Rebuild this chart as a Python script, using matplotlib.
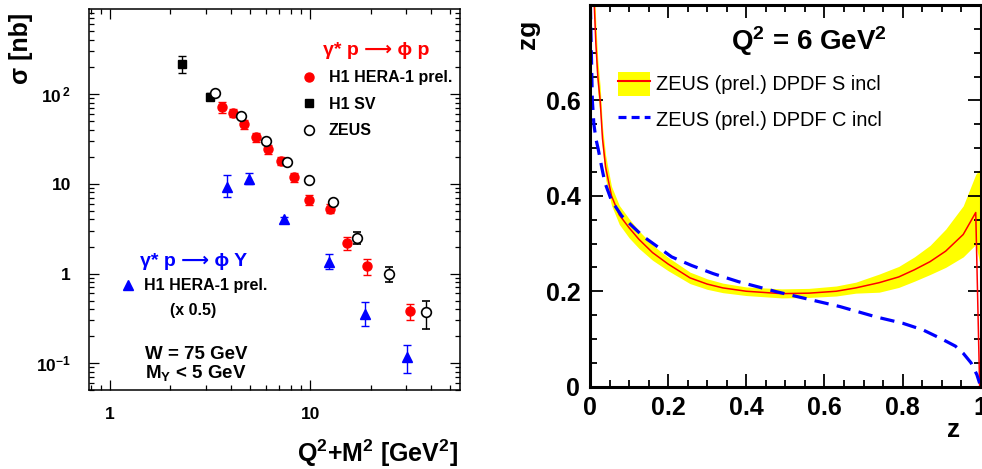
import matplotlib.pyplot as plt
import numpy as np
from matplotlib.lines import Line2D
from matplotlib.patches import Patch
from matplotlib.ticker import FixedLocator, FixedFormatter, NullFormatter, MultipleLocator

plt.rcParams.update({
    'font.family': ['Liberation Sans', 'DejaVu Sans'],
    'font.weight': 'bold',
    'axes.labelweight': 'bold',
    'axes.titleweight': 'bold',
    'mathtext.default': 'regular',
    'xtick.direction': 'in',
    'ytick.direction': 'in',
    'xtick.top': True,
    'ytick.right': True,
})

# --- left panel: phi cross sections vs Q^2+M^2 ---
h1_x = [3.64, 4.12, 4.69, 5.37, 6.12, 7.14, 8.29, 9.89, 12.5, 15.3, 19.2, 31.4]
h1_y = [72, 62, 46, 33.3, 24.3, 17.9, 11.9, 6.6, 5.3, 2.2, 1.22, 0.38]
h1_lo = [62, 55, 41, 29.5, 21.5, 16, 10.6, 5.8, 4.7, 1.81, 0.97, 0.30]
h1_hi = [82, 69, 51, 37, 27, 20, 13.2, 7.5, 6.0, 2.55, 1.46, 0.46]

sv_x = [2.28, 3.14]
sv_y = [219, 93]
sv_lo = [170, 85]
sv_hi = [264, 102]

zeus_x = [3.35, 4.5, 6.0, 7.65, 9.89, 13.0, 17.2, 24.6, 37.6]
zeus_y = [104, 57, 30.3, 17.5, 10.9, 6.3, 2.48, 0.98, 0.37]
zeus_lo = [100, 55, 29, 16.8, 10.4, 6.0, 2.14, 0.80, 0.24]
zeus_hi = [108, 59, 31.6, 18.2, 11.4, 6.6, 2.9, 1.17, 0.50]

pd_x = [3.83, 4.97, 7.35, 12.4, 18.7, 30.4]
pd_y = [9.3, 11.3, 4.0, 1.35, 0.355, 0.116]
pd_lo = [7.2, 9.9, 3.7, 1.12, 0.26, 0.077]
pd_hi = [12.4, 13.1, 4.3, 1.65, 0.48, 0.16]

# --- right panel: zg at Q^2 = 6 GeV^2 ---
zS = [0.010, 0.015, 0.020, 0.026, 0.032, 0.040, 0.055, 0.075, 0.10, 0.125, 0.16, 0.20, 0.256, 0.30,
      0.34, 0.40, 0.49, 0.56, 0.63, 0.68, 0.74, 0.79, 0.83, 0.87, 0.91, 0.955, 0.987, 0.997]
gS = [0.82, 0.72, 0.65, 0.60, 0.52, 0.46, 0.40, 0.36, 0.333, 0.309, 0.281, 0.257, 0.228, 0.215,
      0.207, 0.200, 0.195, 0.196, 0.200, 0.207, 0.218, 0.230, 0.245, 0.262, 0.284, 0.319, 0.365, 0.0]
zS_band = [0.010, 0.015, 0.020, 0.026, 0.032, 0.040, 0.055, 0.075, 0.10, 0.125, 0.16, 0.20, 0.256, 0.30,
           0.34, 0.40, 0.49, 0.56, 0.63, 0.68, 0.74, 0.79, 0.83, 0.87, 0.91, 0.955, 0.987, 0.997]
gS_lo = [0.78, 0.68, 0.615, 0.57, 0.495, 0.435, 0.38, 0.34, 0.312, 0.290, 0.265, 0.243, 0.216, 0.204,
         0.197, 0.191, 0.186, 0.187, 0.190, 0.196, 0.198, 0.208, 0.221, 0.235, 0.250, 0.272, 0.298, 0.26]
gS_hi = [0.86, 0.76, 0.685, 0.63, 0.545, 0.485, 0.42, 0.38, 0.352, 0.327, 0.297, 0.271, 0.240, 0.226,
         0.217, 0.209, 0.205, 0.206, 0.211, 0.219, 0.236, 0.252, 0.272, 0.296, 0.330, 0.379, 0.445, 0.455]

zC = [0.001, 0.004, 0.006, 0.010, 0.015, 0.021, 0.030, 0.038, 0.055, 0.081, 0.11, 0.136, 0.209, 0.26,
      0.315, 0.38, 0.477, 0.55, 0.639, 0.733, 0.80, 0.852, 0.90, 0.935, 0.955, 0.975, 0.99, 0.997]
gC = [0.80, 0.68, 0.60, 0.55, 0.52, 0.498, 0.46, 0.428, 0.39, 0.358, 0.335, 0.315, 0.272, 0.254,
      0.237, 0.220, 0.199, 0.185, 0.168, 0.146, 0.133, 0.119, 0.10, 0.085, 0.07, 0.05, 0.025, 0.007]

fig = plt.figure(figsize=(9.82, 4.69), dpi=100)

# ---------------- left ----------------
ax1 = fig.add_axes([0.0906, 0.168, 0.378, 0.812])
ax1.set_xscale('log')
ax1.set_yscale('log')


def errs(y, lo, hi):
    y = np.array(y)
    return [y - np.array(lo), np.array(hi) - y]


ebar = dict(capsize=3, elinewidth=1, capthick=1)
ax1.errorbar(h1_x, h1_y, yerr=errs(h1_y, h1_lo, h1_hi), fmt='o', color='red', ms=6.5, zorder=3, **ebar)
ax1.errorbar(sv_x, sv_y, yerr=errs(sv_y, sv_lo, sv_hi), fmt='s', color='black', ms=6, zorder=3, **ebar)
ax1.errorbar(zeus_x, zeus_y, yerr=errs(zeus_y, zeus_lo, zeus_hi), fmt='o', color='black',
             mfc='white', mec='black', mew=1.2, ms=7, zorder=4, **ebar)
ax1.errorbar(pd_x, pd_y, yerr=errs(pd_y, pd_lo, pd_hi), fmt='^', color='blue', ms=6.5, zorder=3, **ebar)

ax1.set_xlim(0.785, 56)
ax1.set_ylim(0.05, 880)
ax1.xaxis.set_major_locator(FixedLocator([1, 10]))
ax1.xaxis.set_major_formatter(FixedFormatter(['1', '10']))
ax1.xaxis.set_minor_formatter(NullFormatter())
ax1.yaxis.set_major_locator(FixedLocator([0.1, 1, 10, 100]))
ax1.yaxis.set_major_formatter(FixedFormatter(['10$^{-1}$', '1', '10', '10$^{\\,2}$']))
ax1.yaxis.set_minor_formatter(NullFormatter())
ax1.tick_params(which='major', length=7, width=0.9, labelsize=12.5)
ax1.tick_params(which='minor', length=3.5, width=0.9)
ax1.tick_params(axis='y', pad=13)
ax1.tick_params(axis='x', pad=12)
for s in ax1.spines.values():
    s.set_linewidth(1.1)

ax1.set_ylabel('σ [nb]', fontsize=18, loc='top')
ax1.yaxis.set_label_coords(-0.152, 0.992)
ax1.set_xlabel('Q$^2$+M$^2$ [GeV$^2$]', fontsize=18, loc='right')
ax1.xaxis.set_label_coords(0.995, -0.125)

hm1 = [Line2D([], [], ls='none', marker='o', color='red', ms=6.5),
       Line2D([], [], ls='none', marker='s', color='black', ms=6),
       Line2D([], [], ls='none', marker='o', mfc='white', mec='black', mew=1.2, ms=7)]
leg1 = ax1.legend(hm1, ['H1 HERA-1 prel.', 'H1 SV', 'ZEUS'],
                  title='γ* p ⟶ ϕ p', loc='upper left', bbox_to_anchor=(0.532, 0.953),
                  frameon=False, fontsize=11.5, handlelength=1.0, handletextpad=0.75,
                  labelspacing=0.72)
leg1.get_title().set_color('red')
leg1.get_title().set_fontsize(14)
leg1.get_title().set_fontweight('bold')
ax1.add_artist(leg1)

hm2 = [Line2D([], [], ls='none', marker='^', color='blue', ms=6.5)]
leg2 = ax1.legend(hm2, ['H1 HERA-1 prel.'],
                  title='γ* p ⟶ ϕ Y', loc='upper left', bbox_to_anchor=(0.045, 0.397),
                  frameon=False, fontsize=11.5, handlelength=1.0, handletextpad=0.5)
leg2.get_title().set_color('blue')
leg2.get_title().set_fontsize(14)
leg2.get_title().set_fontweight('bold')

ax1.text(0.218, 0.21, '(x 0.5)', transform=ax1.transAxes, fontsize=11.5, ha='left', va='center')
ax1.text(0.15, 0.068, 'W = 75 GeV\nM$_Y$ < 5 GeV', transform=ax1.transAxes, fontsize=13.5,
         ha='left', va='center', linespacing=1.0)

# ---------------- right ----------------
ax2 = fig.add_axes([0.6008, 0.1755, 0.398, 0.814])
ax2.fill_between(zS_band, gS_lo, gS_hi, color='#ffff00', lw=0)
ax2.plot(zS, gS, color='red', lw=1.1)
ax2.plot(zC, gC, color='blue', lw=2.3, dashes=(4.5, 2.6))
ax2.set_xlim(0, 1)
ax2.set_ylim(0, 0.8)
ax2.xaxis.set_major_locator(FixedLocator([0, 0.2, 0.4, 0.6, 0.8, 1.0]))
ax2.xaxis.set_major_formatter(FixedFormatter(['0', '0.2', '0.4', '0.6', '0.8', '1']))
ax2.xaxis.set_minor_locator(MultipleLocator(0.05))
ax2.yaxis.set_major_locator(FixedLocator([0, 0.2, 0.4, 0.6]))
ax2.yaxis.set_major_formatter(FixedFormatter(['0', '0.2', '0.4', '0.6']))
ax2.yaxis.set_minor_locator(MultipleLocator(0.05))
ax2.tick_params(which='major', length=9.5, width=1.3, labelsize=18, pad=7)
ax2.tick_params(which='minor', length=5, width=1.3)
for s in ax2.spines.values():
    s.set_linewidth(2.2)

ax2.set_ylabel('zg', fontsize=19, loc='top')
ax2.yaxis.set_label_coords(-0.128, 0.96)
ax2.set_xlabel('z', fontsize=19, loc='right')
ax2.xaxis.set_label_coords(0.948, -0.082)
ax2.set_title('Q$^2$ = 6 GeV$^2$', fontsize=20, x=0.56, y=0.86)

hS = (Patch(facecolor='#ffff00', edgecolor='none'), Line2D([], [], color='red', lw=1.5))
hC = Line2D([], [], color='blue', lw=2.3, dashes=(2.5, 1.6))
ax2.legend([hS, hC], ['ZEUS (prel.) DPDF S incl', 'ZEUS (prel.) DPDF C incl'],
           loc='upper left', bbox_to_anchor=(0.025, 0.872), frameon=False,
           prop={'weight': 'normal', 'size': 14.4}, handlelength=1.6, handleheight=1.45,
           handletextpad=0.3, labelspacing=0.62)

fig.savefig('out.png', dpi=100)
